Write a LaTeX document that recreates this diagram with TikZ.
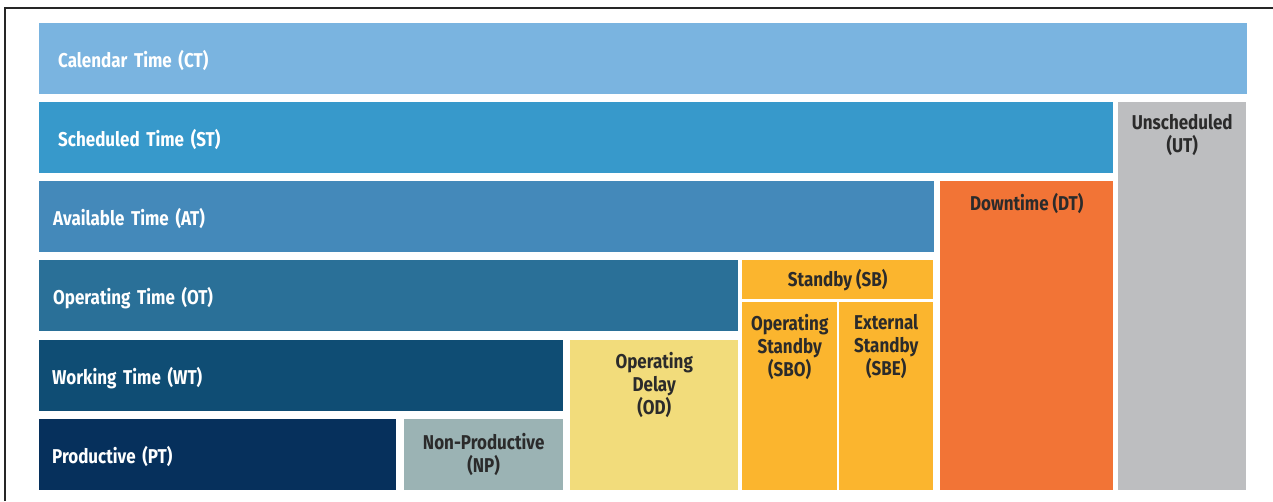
\documentclass[tikz,border=0pt]{standalone}
\usepackage{fontspec}
\setmainfont[FakeStretch=0.85]{Fira Sans}
\definecolor{ct}{HTML}{7AB4E0}
\definecolor{st}{HTML}{3799CB}
\definecolor{at}{HTML}{4489BA}
\definecolor{ot}{HTML}{2A7098}
\definecolor{wt}{HTML}{0F4D74}
\definecolor{pt}{HTML}{06305C}
\definecolor{np}{HTML}{9BB3B4}
\definecolor{od}{HTML}{F2DC7B}
\definecolor{sb}{HTML}{FBB52E}
\definecolor{dt}{HTML}{F27436}
\definecolor{ut}{HTML}{BDBEC0}
\definecolor{txt}{HTML}{2B2B2B}
\begin{document}
\begin{tikzpicture}[x=1pt,y=-1pt]
	\def\h{71}
	\tikzset{b/.style={rectangle,anchor=north west,inner sep=0pt,font=\bfseries\fontsize{20}{23}\selectfont},
	bar/.style={b,text=white,align=left,minimum height=\h},
	lab/.style={text=txt,align=center,font=\bfseries\fontsize{20}{23}\selectfont}}
	\useasboundingbox(0,0)rectangle(1273,501);
	\draw[line width=1.4pt,black!85](5,501)--(5,8)--(1273,8);
	% left bars, text at the left
	\foreach \n/\y/\w/\s/\d/\c/\t in {
	CT/23/1208/19/0/ct/Calendar Time (CT),
	ST/102/1074/19/3/st/Scheduled Time (ST),
	AT/181/895/14/3/at/Available Time (AT),
	OT/260/699/14/2/ot/Operating Time (OT),
	WT/340/524/13/2/wt/Working Time (WT),
	PT/419/357/13/0/pt/Productive (PT)}
	{\pgfmathsetmacro\tw{\w-2*\s}
	\node[bar,fill=\c,minimum width=\w,inner xsep=\s,text width=\tw pt,text depth=-\d pt](\n)at(39,\y){\t};}
	% boxes with the text on top
	\foreach \n/\x/\y/\w/\hh/\c/\t in {
	UT/1118/102/128/388/ut/Unscheduled\\(UT),
	DT/940/181/173/309/dt/Downtime (DT),
	OD/570/340/168/150/od/Operating\\Delay\\(OD),
	SBO/742/302/95/188/sb/Operating\\Standby\\(SBO),
	SBE/839/302/94/188/sb/External\\Standby\\(SBE)}
	\node[b,fill=\c,minimum width=\w,minimum height=\hh,label={[lab,anchor=north,yshift=-9]north:\t}](\n)at(\x,\y){};
	% boxes with the text in the middle
	\node[b,fill=sb,minimum width=191,minimum height=39,text=txt](SB)at(742,260){Standby (SB)};
	\node[b,fill=np,minimum width=159,minimum height=71,text=txt,align=center](NP)at(404,419){Non-Productive\\(NP)};
\end{tikzpicture}
\end{document}
